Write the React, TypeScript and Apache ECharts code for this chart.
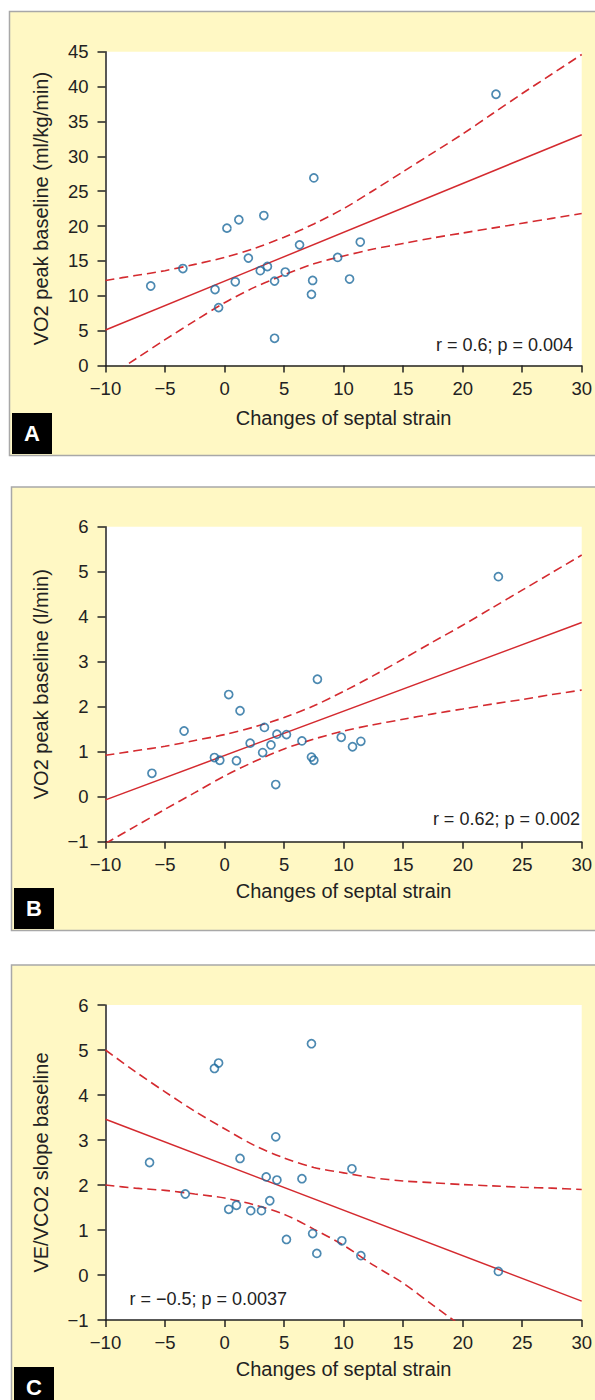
import React, { useEffect, useRef } from "react";
import * as echarts from "echarts";

// ---------- data ----------
// Panel A: VO2 peak baseline (ml/kg/min) vs changes of septal strain
const aStrain = [-6.2, -3.5, -0.8, -0.5, 0.2, 0.9, 1.2, 2.0, 3.0, 3.3, 3.6, 4.2, 4.2, 5.1, 6.3, 7.4, 7.3, 7.5, 9.5, 10.5, 11.4, 22.8];
const aVO2 = [11.4, 13.9, 10.9, 8.3, 19.7, 12.0, 20.9, 15.4, 13.6, 21.5, 14.2, 12.1, 3.9, 13.4, 17.3, 12.2, 10.2, 26.9, 15.5, 12.4, 17.7, 38.9];
const aFitY = [5.1, 33.1];
const aUpper = [12.2, 12.9, 13.6, 14.5, 15.5, 16.8, 18.4, 20.3, 22.5, 25.1, 27.8, 30.5, 33.2, 36.1, 39.0, 41.8, 44.6];
const aLower = [-1.9, 0.9, 3.7, 6.4, 9.0, 11.2, 13.0, 14.6, 15.7, 16.7, 17.5, 18.3, 19.0, 19.7, 20.4, 21.1, 21.8];

// Panel B: VO2 peak baseline (l/min)
const bStrain = [-6.1, -3.4, -0.85, -0.4, 0.35, 1.0, 1.3, 2.15, 3.2, 3.35, 3.9, 4.4, 4.3, 5.2, 6.5, 7.3, 7.5, 7.8, 9.8, 10.75, 11.45, 23.0];
const bVO2 = [0.52, 1.46, 0.87, 0.81, 2.27, 0.8, 1.91, 1.19, 0.98, 1.54, 1.15, 1.39, 0.27, 1.38, 1.24, 0.88, 0.81, 2.61, 1.32, 1.11, 1.23, 4.89];
const bFitY = [-0.07, 3.87];
const bUpper = [0.92, 1.02, 1.12, 1.25, 1.38, 1.55, 1.76, 2.02, 2.34, 2.69, 3.06, 3.44, 3.81, 4.2, 4.59, 4.98, 5.37];
const bLower = [-1.04, -0.66, -0.28, 0.09, 0.46, 0.78, 1.06, 1.28, 1.46, 1.6, 1.72, 1.84, 1.95, 2.06, 2.16, 2.27, 2.37];

// Panel C: VE/VCO2 slope baseline
const cStrain = [-6.3, -3.3, -0.85, -0.5, 0.35, 1.0, 1.3, 2.2, 3.1, 3.5, 3.8, 4.3, 4.4, 5.2, 6.5, 7.3, 7.4, 7.75, 9.85, 10.7, 11.45, 23.0];
const cSlope = [2.5, 1.8, 4.59, 4.71, 1.46, 1.55, 2.59, 1.43, 1.43, 2.18, 1.65, 3.07, 2.11, 0.79, 2.14, 5.14, 0.92, 0.48, 0.76, 2.36, 0.43, 0.08];
const cFitY = [3.46, -0.58];
const cUpper = [5.0, 4.52, 4.07, 3.64, 3.25, 2.88, 2.6, 2.39, 2.27, 2.16, 2.09, 2.05, 2.01, 1.98, 1.95, 1.93, 1.9];
const cLowerX = [-10, -7.5, -5, -2.5, 0, 2.5, 5, 7.5, 10, 12.5, 15, 17.5, 20];
const cLower = [2.0, 1.93, 1.88, 1.8, 1.71, 1.56, 1.35, 1.02, 0.66, 0.22, -0.18, -0.67, -1.15];

const fitX = [-10, 30];
const ciX = [-10, -7.5, -5, -2.5, 0, 2.5, 5, 7.5, 10, 12.5, 15, 17.5, 20, 22.5, 25, 27.5, 30];

const xName = "Changes of septal strain";
const yNames = ["VO2 peak baseline (ml/kg/min)", "VO2 peak baseline (l/min)", "VE/VCO2 slope baseline"];
const stats = ["r = 0.6; p = 0.004", "r = 0.62; p = 0.002", "r = \u22120.5; p = 0.0037"];
const panelLetters = ["A", "B", "C"];
const yRanges = [
  { min: 0, max: 45, interval: 5 },
  { min: -1, max: 6, interval: 1 },
  { min: -1, max: 6, interval: 1 },
];

// ---------- styling ----------
const FONT = "'Liberation Sans', Arial, Helvetica, sans-serif";
const INK = "#222222";
const CREAM = "#fff8c4";
const RED = "#d42a2f";
const BLUE = "#1f6c9e";

const zip = (xs: number[], ys: number[]) => xs.map((x, i) => [x, ys[i]]);
const fmt = (v: number) => String(v).replace("-", "\u2212");

const grids = [
  { left: 105.5, top: 51.7, width: 481.5, height: 313.8 },
  { left: 105.5, top: 526.7, width: 481.5, height: 315 },
  { left: 105.5, top: 1005, width: 481.5, height: 315 },
];
const nameGaps = [42.5, 39, 39];
const panels = [
  { x: 9.5, y: 11.5, h: 444 },
  { x: 11.5, y: 487, h: 443.5 },
  { x: 11.5, y: 965, h: 460 },
];
const letterBoxes = [
  { x: 12, y: 413, w: 40, h: 41 },
  { x: 14, y: 888, w: 40, h: 41 },
  { x: 14, y: 1367, w: 40, h: 41 },
];
const statPos = [
  { x: 573, y: 344.5, align: "right" },
  { x: 580, y: 819, align: "right" },
  { x: 129.5, y: 1299, align: "left" },
];

export default function App() {
  const ref = useRef<HTMLDivElement>(null);

  useEffect(() => {
    if (!ref.current) return;
    const chart = echarts.init(ref.current, undefined, { renderer: "svg" });

    const scatterData = [zip(aStrain, aVO2), zip(bStrain, bVO2), zip(cStrain, cSlope)];
    const fitData = [zip(fitX, aFitY), zip(fitX, bFitY), zip(fitX, cFitY)];
    const upperData = [zip(ciX, aUpper), zip(ciX, bUpper), zip(ciX, cUpper)];
    const lowerData = [zip(ciX, aLower), zip(ciX, bLower), zip(cLowerX, cLower)];

    const axisLineStyle = { color: INK, width: 1.5 };

    const xAxis = grids.map((_, i) => ({
      type: "value",
      gridIndex: i,
      min: -10,
      max: 30,
      interval: 5,
      axisLine: { show: true, onZero: false, lineStyle: axisLineStyle },
      axisTick: { show: true, length: 7, lineStyle: axisLineStyle },
      axisLabel: { margin: 13, fontSize: 18.5, color: INK, fontFamily: FONT, formatter: fmt },
      splitLine: { show: false },
      name: xName,
      nameLocation: "middle",
      nameGap: nameGaps[i],
      nameTextStyle: { fontSize: 20, color: INK, fontFamily: FONT },
    }));

    const yAxis = grids.map((_, i) => ({
      type: "value",
      gridIndex: i,
      min: yRanges[i].min,
      max: yRanges[i].max,
      interval: yRanges[i].interval,
      axisLine: { show: true, onZero: false, lineStyle: axisLineStyle },
      axisTick: { show: true, length: 8, lineStyle: axisLineStyle },
      axisLabel: { margin: 17, fontSize: 18.5, color: INK, fontFamily: FONT, formatter: fmt },
      splitLine: { show: false },
      name: yNames[i],
      nameLocation: "middle",
      nameGap: 55,
      nameTextStyle: { fontSize: 20, color: INK, fontFamily: FONT },
    }));

    const series: any[] = [];
    grids.forEach((_, i) => {
      series.push({
        type: "line",
        xAxisIndex: i,
        yAxisIndex: i,
        data: fitData[i],
        symbol: "none",
        lineStyle: { color: RED, width: 1.5 },
        z: 2,
      });
      [upperData[i], lowerData[i]].forEach((d) =>
        series.push({
          type: "line",
          xAxisIndex: i,
          yAxisIndex: i,
          data: d,
          smooth: 0.3,
          symbol: "none",
          clip: true,
          lineStyle: { color: RED, width: 1.6, type: [9, 5] },
          z: 2,
        })
      );
      series.push({
        type: "scatter",
        xAxisIndex: i,
        yAxisIndex: i,
        data: scatterData[i],
        symbol: "circle",
        symbolSize: 8,
        itemStyle: { color: "rgba(255,255,255,0)", borderColor: BLUE, borderWidth: 1.7 },
        z: 3,
      });
    });

    const graphic: any[] = [];
    panels.forEach((p) =>
      graphic.push({
        type: "rect",
        z: -10,
        shape: { x: p.x, y: p.y, width: 620, height: p.h },
        style: { fill: CREAM, stroke: "#a8a8a8", lineWidth: 1.5 },
        silent: true,
      })
    );
    letterBoxes.forEach((b, i) => {
      graphic.push({
        type: "rect",
        z: 10,
        shape: { x: b.x, y: b.y, width: b.w, height: b.h },
        style: { fill: "#000" },
        silent: true,
      });
      graphic.push({
        type: "text",
        z: 11,
        x: b.x + b.w / 2,
        y: b.y + 20,
        style: {
          text: panelLetters[i],
          fill: "#fff",
          fontSize: 22,
          fontWeight: "bold",
          fontFamily: FONT,
          textAlign: "center",
          textVerticalAlign: "middle",
        },
        silent: true,
      });
    });
    statPos.forEach((s, i) =>
      graphic.push({
        type: "text",
        z: 11,
        x: s.x,
        y: s.y,
        style: {
          text: stats[i],
          fill: INK,
          fontSize: 18,
          fontFamily: FONT,
          textAlign: s.align,
          textVerticalAlign: "middle",
        },
        silent: true,
      })
    );

    chart.setOption({
      animation: false,
      backgroundColor: "#ffffff",
      grid: grids.map((g) => ({ ...g, show: true, backgroundColor: "#ffffff", borderWidth: 0, z: 0 })),
      xAxis,
      yAxis,
      series,
      graphic,
    });

    return () => chart.dispose();
  }, []);

  return (
    <div
      ref={ref}
      style={{ position: "absolute", left: 0, top: 0, width: 595, height: 1400 }}
    />
  );
}
